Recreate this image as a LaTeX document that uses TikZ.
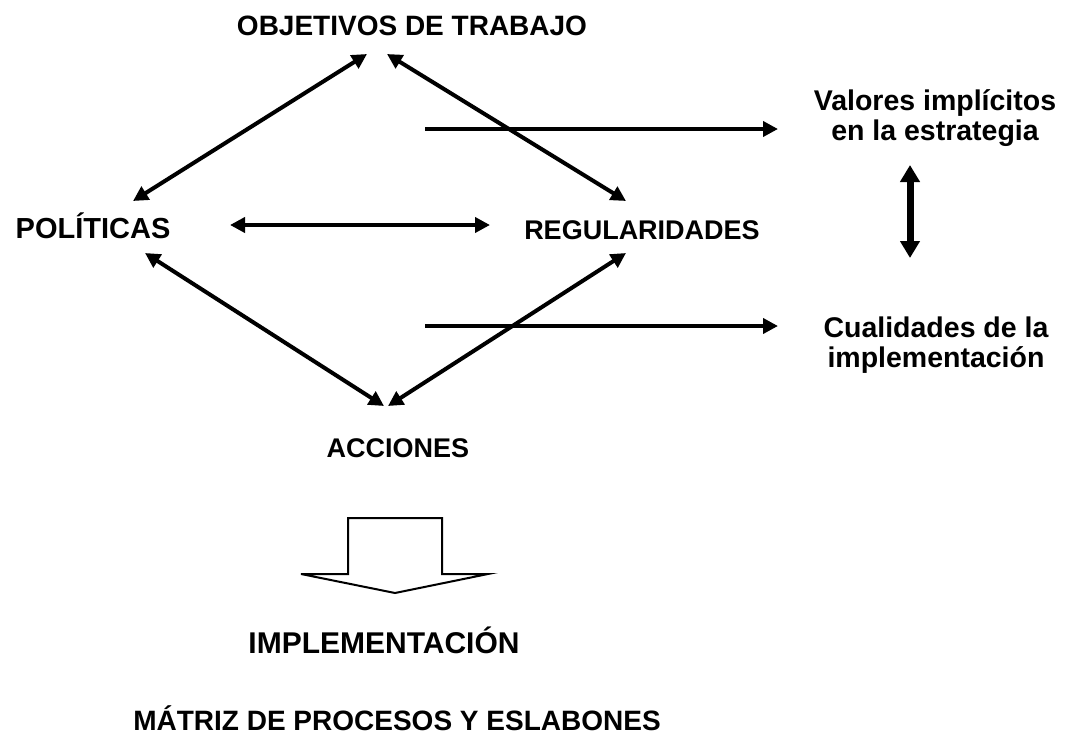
\documentclass[tikz,border=0pt]{standalone}
\usepackage{fontspec}
\setmainfont{Liberation Sans}
\usetikzlibrary{arrows.meta}
\newcommand{\fs}[1]{\bfseries\fontsize{#1}{29.5}\selectfont}
\begin{document}
\begin{tikzpicture}[x=1pt,y=-1pt,
  lbl/.style={inner sep=0pt, anchor=base},
  sml/.style={font=\fs{28.5}, inner sep=0pt, align=center},
  arr/.style={line width=4pt, -{Triangle[length=15pt,width=15pt]}},
  darr/.style={line width=4pt, {Triangle[length=15pt,width=15pt]}-{Triangle[length=15pt,width=15pt]}},
  varr/.style={line width=7pt, {Triangle[length=17pt,width=19pt]}-{Triangle[length=17pt,width=19pt]}}]
\useasboundingbox (0,0) rectangle (1068,744);
\node[lbl, font=\fs{28}] (obj) at (412,35) {OBJETIVOS DE TRABAJO};
\node[lbl, font=\fs{29}] (pol) at (93,238) {POLÍTICAS};
\node[lbl, font=\fs{27}] (reg) at (642,239) {REGULARIDADES};
\node[lbl, font=\fs{27}] (acc) at (398,457) {ACCIONES};
\node[sml] (val) at (935,118) {Valores implícitos\\en la estrategia};
\node[sml] (cua) at (936,345) {Cualidades de la\\implementación};
\node[lbl, font=\fs{30}] (imp) at (384,653) {IMPLEMENTACIÓN};
\node[lbl, font=\fs{28}] (mat) at (397,730) {MÁTRIZ DE PROCESOS Y ESLABONES};
\coordinate (o1) at (367,54);
\coordinate (o2) at (387,54);
\coordinate (p1) at (133,201);
\coordinate (r1) at (626,201);
\coordinate (p2) at (145,253);
\coordinate (r2) at (626,253);
\coordinate (a1) at (384,406);
\coordinate (a2) at (388,406);
\coordinate (h1) at (230,225);
\coordinate (h2) at (490,225);
\coordinate (t1) at (425,129);
\coordinate (t2) at (778,129);
\coordinate (b1) at (425,326);
\coordinate (b2) at (778,326);
\coordinate (v1) at (910,165);
\coordinate (v2) at (910,258);
\draw[darr] (p1) -- (o1);
\draw[darr] (r1) -- (o2);
\draw[darr] (p2) -- (a1);
\draw[darr] (r2) -- (a2);
\draw[darr] (h1) -- (h2);
\draw[arr] (t1) -- (t2);
\draw[arr] (b1) -- (b2);
\draw[varr] (v1) -- (v2);
\draw[line width=2pt, line join=miter] (348,574) -- (348,518) -- (442,518) -- (442,574) -- (488,574) -- (395,593) -- (301,574) -- cycle;
\end{tikzpicture}
\end{document}
